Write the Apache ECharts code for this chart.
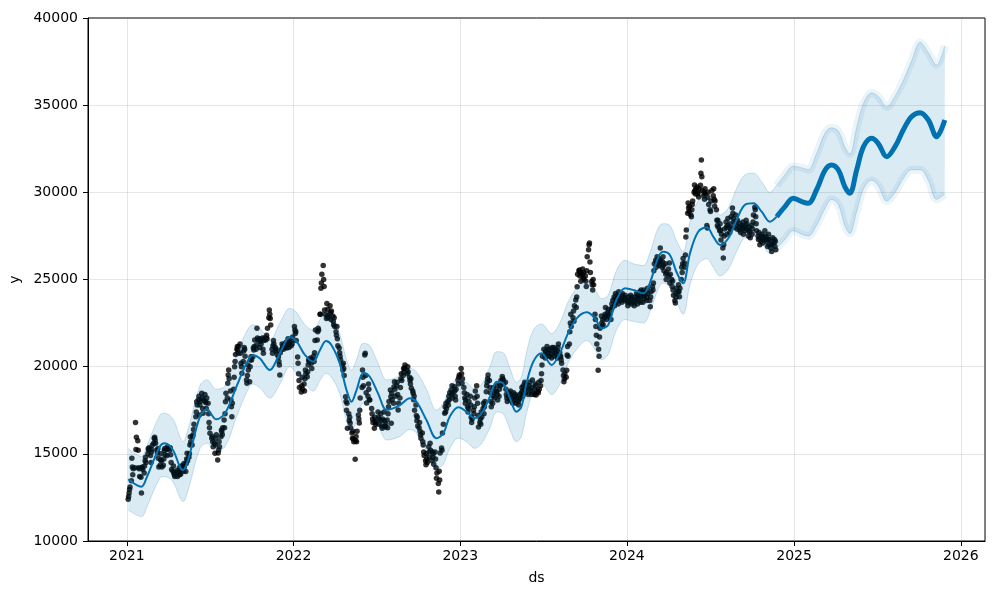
<!DOCTYPE html>
<html><head><meta charset="utf-8">
<script src="https://cdn.jsdelivr.net/npm/echarts@6/dist/echarts.min.js"></script>
<style>html,body{margin:0;padding:0;background:#fff}#c{width:1000px;height:600px}</style>
</head><body><div id="c"></div>
<script>
// ---- forecast (yhat) and its uncertainty band ----
const fcDates = ['2021-01-04','2021-02-02','2021-02-13','2021-03-14','2021-03-25','2021-04-12','2021-04-27','2021-05-04','2021-05-15','2021-06-10','2021-06-25','2021-07-16','2021-08-04','2021-08-29','2021-09-20','2021-10-04','2021-10-19','2021-11-10','2021-12-02','2021-12-24',
'2022-01-08','2022-01-26','2022-02-13','2022-02-28','2022-03-13','2022-03-25','2022-04-12','2022-04-27','2022-05-08','2022-05-19','2022-06-03','2022-06-17','2022-07-05','2022-07-24','2022-08-07','2022-08-22','2022-09-13','2022-09-27','2022-10-19','2022-11-10','2022-11-25','2022-12-09','2022-12-28',
'2023-01-15','2023-02-02','2023-02-17','2023-03-07','2023-03-22','2023-04-05','2023-04-20','2023-05-04','2023-05-15','2023-05-26','2023-06-10','2023-06-28','2023-07-20','2023-08-07','2023-08-25','2023-09-13','2023-10-05','2023-10-23','2023-11-07','2023-11-21','2023-12-09','2023-12-28',
'2024-01-15','2024-02-06','2024-02-20','2024-03-10','2024-03-21','2024-04-04','2024-04-19','2024-05-03','2024-05-18','2024-06-05','2024-06-24','2024-07-08','2024-07-23','2024-08-10','2024-08-28','2024-09-15','2024-10-04','2024-10-22','2024-11-09','2024-11-24','2024-12-12','2024-12-30',
'2025-01-18','2025-02-01','2025-02-19','2025-03-10','2025-03-24','2025-04-08','2025-04-22','2025-05-03','2025-05-18','2025-06-02','2025-06-20','2025-07-04','2025-07-23','2025-08-10','2025-08-28','2025-09-15','2025-10-04','2025-10-22','2025-11-09','2025-11-27'];
const yhat = [13540,13115,13614,15410,15603,15220,14262,14073,14646,17130,17554,16980,17325,18851,20193,20650,20480,19809,20766,21684,
21432,20670,20286,20956,21472,21243,20193,18661,17990,18661,19654,19424,18470,17514,17611,17800,18185,17990,16941,15891,16178,17130,17669,
17417,17037,17325,18277,19138,19046,18185,17417,17704,19046,20286,20766,20096,20766,21913,22774,23118,22774,22200,22390,23824,24495,
24398,24207,24781,26308,26594,26405,25400,24781,26500,27742,27994,27455,26979,27362,28412,29272,29370,28890,28316,28604,29177,29657,
29466,29370,30134,31281,31568,31281,30325,29944,31281,32619,33100,32813,32045,32619,33575,34338,34568,34149,33192,34149];
const yhatUpper = [15300,14850,15400,17200,17330,17000,16000,15700,16400,18900,19250,18700,18900,20600,22000,22400,22200,21530,22500,23350,
23100,22400,22100,22700,23200,23000,21900,20400,19810,20400,21340,21200,20200,19235,19300,19500,19900,19700,18700,17514,17900,18800,19300,
19100,18700,19000,20000,20860,20800,19900,19100,19400,20800,22100,22450,21900,22500,23700,24500,24900,24400,23900,24100,25500,26100,
25900,25800,26500,28000,28200,28100,27200,26600,28300,29500,29800,29300,28700,29100,30200,31000,31100,30600,30000,30400,31000,31500,
31400,31300,32200,33400,33700,33500,32600,32200,33700,35100,35700,35500,34900,35500,36400,37500,38600,38000,37300,38400];
const yhatLower = [11780,11400,11900,13600,13700,13400,12500,12260,12900,15300,15600,15220,15410,17100,18500,19000,18800,18200,19000,20000,
19600,19000,18600,19200,19620,19400,18470,16900,16300,16900,17900,17700,16750,15793,15850,16000,16400,16200,15200,14170,14400,15300,15900,
15700,15317,15600,16500,17400,17300,16400,15700,16000,17300,18600,19050,18400,19000,20200,21000,21500,21000,20400,20700,22100,22700,
22600,22500,23100,24500,24800,24600,23700,23000,24700,25900,26200,25700,25200,25600,26600,27400,27500,27100,26500,26800,27300,27800,
27600,27500,28100,29100,29600,29300,28100,27650,28900,30200,30700,30400,29500,30000,30800,31300,31300,30700,29600,29900];
const lastHistoryDate = '2024-11-24';

// ---- observed points (ds, y) ----
const observed = [
["2021-01-04",12400],["2021-01-05",12550],["2021-01-06",12750],["2021-01-07",12950],["2021-01-08",13100],["2021-01-11",13450],["2021-01-12",14750],["2021-01-13",14250],["2021-01-14",13800],["2021-01-15",14150],["2021-01-19",14200],["2021-01-20",16800],["2021-01-21",15250],["2021-01-22",15950],["2021-01-25",15750],["2021-01-26",15200],["2021-01-27",14200],["2021-01-28",14150],["2021-01-29",13700],
["2021-02-01",13650],["2021-02-02",12750],["2021-02-03",14200],["2021-02-04",14250],["2021-02-05",14100],["2021-02-08",13900],["2021-02-09",14300],["2021-02-10",14600],["2021-02-11",14800],["2021-02-12",14500],["2021-02-16",15000],["2021-02-17",15300],["2021-02-18",15200],["2021-02-19",15350],["2021-02-22",14900],["2021-02-23",14500],["2021-02-24",15100],["2021-02-25",15250],["2021-02-26",15500],
["2021-03-01",15600],["2021-03-02",15900],["2021-03-03",15950],["2021-03-04",15800],["2021-03-05",15600],["2021-03-08",15200],["2021-03-09",15050],["2021-03-10",15300],["2021-03-11",14750],["2021-03-12",14250],["2021-03-15",14350],["2021-03-16",14650],["2021-03-17",15000],["2021-03-18",14600],["2021-03-19",14250],["2021-03-22",14350],["2021-03-23",14700],["2021-03-24",15200],["2021-03-25",15300],["2021-03-26",14950],["2021-03-29",15250],["2021-03-30",14900],["2021-03-31",15400],
["2021-04-01",15300],["2021-04-05",15220],["2021-04-06",15350],["2021-04-07",14950],["2021-04-08",14500],["2021-04-09",14100],["2021-04-12",14000],["2021-04-13",14300],["2021-04-14",13900],["2021-04-15",13800],["2021-04-16",13700],["2021-04-19",13900],["2021-04-20",13800],["2021-04-21",14050],["2021-04-22",13700],["2021-04-23",13950],["2021-04-26",14200],["2021-04-27",13800],["2021-04-28",14000],["2021-04-29",13850],["2021-04-30",14300],
["2021-05-03",14100],["2021-05-04",14300],["2021-05-05",14000],["2021-05-06",14450],["2021-05-07",14260],["2021-05-10",13980],["2021-05-11",14450],["2021-05-12",14700],["2021-05-13",15030],["2021-05-14",14600],["2021-05-17",14800],["2021-05-18",15000],["2021-05-19",15500],["2021-05-20",15980],["2021-05-21",15700],["2021-05-24",15500],["2021-05-25",15980],["2021-05-26",16100],["2021-05-27",16400],["2021-05-28",16700],
["2021-06-01",17130],["2021-06-02",17400],["2021-06-03",17990],["2021-06-04",17800],["2021-06-07",18100],["2021-06-08",18300],["2021-06-09",17230],["2021-06-10",17800],["2021-06-11",18000],["2021-06-14",18470],["2021-06-15",18200],["2021-06-16",17600],["2021-06-17",17325],["2021-06-18",18090],["2021-06-21",18400],["2021-06-22",18000],["2021-06-23",17930],["2021-06-24",17600],["2021-06-25",18200],["2021-06-28",17900],["2021-06-29",17300],["2021-06-30",16800],
["2021-07-01",16500],["2021-07-02",16180],["2021-07-06",15890],["2021-07-07",16000],["2021-07-08",15700],["2021-07-09",15410],["2021-07-12",15600],["2021-07-13",15030],["2021-07-14",15500],["2021-07-15",15900],["2021-07-16",16100],["2021-07-19",14650],["2021-07-20",15050],["2021-07-21",15220],["2021-07-22",15700],["2021-07-23",15400],["2021-07-26",15980],["2021-07-27",16370],["2021-07-28",16270],["2021-07-29",16100],["2021-07-30",16500],
["2021-08-02",16940],["2021-08-03",16500],["2021-08-04",17300],["2021-08-05",17990],["2021-08-06",18470],["2021-08-09",18200],["2021-08-10",19050],["2021-08-11",19520],["2021-08-12",19810],["2021-08-13",19300],["2021-08-16",18600],["2021-08-17",18090],["2021-08-18",17700],["2021-08-19",17130],["2021-08-20",17900],["2021-08-23",18700],["2021-08-24",19400],["2021-08-25",20000],["2021-08-26",20300],["2021-08-27",20700],["2021-08-30",21000],["2021-08-31",21150],
["2021-09-01",20960],["2021-09-02",20770],["2021-09-03",21150],["2021-09-06",21300],["2021-09-07",20770],["2021-09-08",20190],["2021-09-09",20000],["2021-09-10",19620],["2021-09-13",20300],["2021-09-14",20900],["2021-09-15",21100],["2021-09-16",21000],["2021-09-17",20600],["2021-09-20",19240],["2021-09-21",19050],["2021-09-22",19500],["2021-09-23",20100],["2021-09-24",19810],["2021-09-27",19140],["2021-09-28",20000],["2021-09-29",20380],["2021-09-30",20570],
["2021-10-01",20380],["2021-10-04",20570],["2021-10-05",21070],["2021-10-06",20960],["2021-10-07",21150],["2021-10-08",21530],["2021-10-11",21000],["2021-10-12",21250],["2021-10-13",22200],["2021-10-14",21640],["2021-10-15",21530],["2021-10-18",21600],["2021-10-19",21100],["2021-10-20",21450],["2021-10-21",21550],["2021-10-22",21300],["2021-10-25",21640],["2021-10-26",21000],["2021-10-27",20770],["2021-10-28",21500],["2021-10-29",21640],
["2021-11-01",21530],["2021-11-02",21640],["2021-11-03",21800],["2021-11-04",21600],["2021-11-05",22200],["2021-11-08",22800],["2021-11-09",23250],["2021-11-10",23000],["2021-11-11",22770],["2021-11-12",22390],["2021-11-15",21000],["2021-11-16",20770],["2021-11-17",21200],["2021-11-18",21500],["2021-11-19",21300],["2021-11-22",21100],["2021-11-23",20900],["2021-11-24",21000],["2021-11-26",20700],["2021-11-29",20550],["2021-11-30",20300],
["2021-12-01",20100],["2021-12-02",19520],["2021-12-03",20800],["2021-12-06",21000],["2021-12-07",21300],["2021-12-08",21070],["2021-12-09",21200],["2021-12-10",21000],["2021-12-13",21300],["2021-12-14",21100],["2021-12-15",21250],["2021-12-16",21400],["2021-12-17",21070],["2021-12-20",21600],["2021-12-21",21300],["2021-12-22",21100],["2021-12-23",21400],["2021-12-27",21200],["2021-12-28",21500],["2021-12-29",21300],["2021-12-30",21700],
["2022-01-03",22300],["2022-01-04",22100],["2022-01-05",21900],["2022-01-06",22000],["2022-01-07",21500],["2022-01-10",20550],["2022-01-11",20200],["2022-01-12",19600],["2022-01-13",19200],["2022-01-14",18800],["2022-01-18",18550],["2022-01-19",18900],["2022-01-20",19400],["2022-01-21",18700],["2022-01-24",19000],["2022-01-25",18600],["2022-01-26",19300],["2022-01-27",19810],["2022-01-28",19600],["2022-01-31",19420],
["2022-02-01",19700],["2022-02-02",20100],["2022-02-03",20380],["2022-02-04",20300],["2022-02-07",20500],["2022-02-08",20380],["2022-02-09",20200],["2022-02-10",19900],["2022-02-11",20400],["2022-02-14",20600],["2022-02-15",20300],["2022-02-16",20800],["2022-02-17",21500],["2022-02-18",22100],["2022-02-22",21530],["2022-02-23",22000],["2022-02-24",22200],["2022-02-25",22100],["2022-02-28",23000],
["2022-03-01",23000],["2022-03-02",24500],["2022-03-03",24800],["2022-03-04",25300],["2022-03-07",25800],["2022-03-08",25000],["2022-03-09",24600],["2022-03-10",23250],["2022-03-11",23000],["2022-03-14",22770],["2022-03-15",23630],["2022-03-16",22900],["2022-03-17",23300],["2022-03-18",22800],["2022-03-21",23000],["2022-03-22",23500],["2022-03-23",23100],["2022-03-24",22700],["2022-03-25",23200],["2022-03-28",22900],["2022-03-29",22600],["2022-03-30",22400],["2022-03-31",22800],
["2022-04-01",22300],["2022-04-04",22000],["2022-04-05",21800],["2022-04-06",22300],["2022-04-07",21600],["2022-04-08",21200],["2022-04-11",21070],["2022-04-12",20800],["2022-04-13",20600],["2022-04-14",20400],["2022-04-18",20100],["2022-04-19",19810],["2022-04-20",20200],["2022-04-21",19900],["2022-04-22",19500],["2022-04-25",18280],["2022-04-26",18000],["2022-04-27",17500],["2022-04-28",17900],["2022-04-29",16470],
["2022-05-02",17300],["2022-05-03",16900],["2022-05-04",17100],["2022-05-05",16770],["2022-05-06",16500],["2022-05-09",16200],["2022-05-10",15900],["2022-05-11",16300],["2022-05-12",15850],["2022-05-13",15700],["2022-05-16",14690],["2022-05-17",15750],["2022-05-18",16000],["2022-05-19",15700],["2022-05-20",16300],["2022-05-23",17230],["2022-05-24",17000],["2022-05-25",16770],["2022-05-26",17500],["2022-05-27",18200],["2022-05-31",18800],
["2022-06-01",19810],["2022-06-02",19400],["2022-06-03",18900],["2022-06-06",20670],["2022-06-07",20770],["2022-06-08",19500],["2022-06-09",18500],["2022-06-10",17920],["2022-06-13",18300],["2022-06-14",19000],["2022-06-15",18700],["2022-06-16",18100],["2022-06-17",18090],["2022-06-21",17600],["2022-06-22",17300],["2022-06-23",17000],["2022-06-24",16800],["2022-06-27",16470],["2022-06-28",17100],["2022-06-29",16900],["2022-06-30",16700],
["2022-07-01",16800],["2022-07-05",17400],["2022-07-06",17100],["2022-07-07",16700],["2022-07-08",17000],["2022-07-11",17300],["2022-07-12",16900],["2022-07-13",16600],["2022-07-14",16470],["2022-07-15",17000],["2022-07-18",17400],["2022-07-19",16900],["2022-07-20",16600],["2022-07-21",16540],["2022-07-22",16700],["2022-07-25",16940],["2022-07-26",16500],["2022-07-27",17300],["2022-07-28",17700],["2022-07-29",18000],
["2022-08-01",18660],["2022-08-02",18280],["2022-08-03",16750],["2022-08-04",18470],["2022-08-05",18100],["2022-08-08",17900],["2022-08-09",18850],["2022-08-10",19140],["2022-08-11",18700],["2022-08-12",18300],["2022-08-15",18900],["2022-08-16",19100],["2022-08-17",18400],["2022-08-18",17510],["2022-08-19",17900],["2022-08-22",18200],["2022-08-23",18800],["2022-08-24",19300],["2022-08-25",19600],["2022-08-26",19200],["2022-08-29",19500],["2022-08-30",19900],["2022-08-31",19700],
["2022-09-01",19920],["2022-09-02",20100],["2022-09-06",19800],["2022-09-07",19600],["2022-09-08",20000],["2022-09-09",19700],["2022-09-12",19400],["2022-09-13",19200],["2022-09-14",19000],["2022-09-15",19300],["2022-09-16",18760],["2022-09-19",18600],["2022-09-20",18470],["2022-09-21",18100],["2022-09-22",18300],["2022-09-23",17500],["2022-09-26",17800],["2022-09-27",17200],["2022-09-28",16900],["2022-09-29",17100],["2022-09-30",16600],
["2022-10-03",16500],["2022-10-04",16800],["2022-10-05",16300],["2022-10-06",16080],["2022-10-07",15900],["2022-10-10",16200],["2022-10-11",15700],["2022-10-12",15500],["2022-10-13",15100],["2022-10-14",14900],["2022-10-17",14600],["2022-10-18",14370],["2022-10-19",15000],["2022-10-20",14700],["2022-10-21",14500],["2022-10-24",15400],["2022-10-25",15100],["2022-10-26",14800],["2022-10-27",15600],["2022-10-28",15200],["2022-10-31",14600],
["2022-11-01",15100],["2022-11-02",14800],["2022-11-03",15000],["2022-11-04",14400],["2022-11-07",15100],["2022-11-08",14700],["2022-11-09",14200],["2022-11-10",13600],["2022-11-11",13900],["2022-11-14",13300],["2022-11-15",12810],["2022-11-16",14000],["2022-11-17",13500],["2022-11-18",15050],["2022-11-21",15330],["2022-11-22",15200],["2022-11-23",16200],["2022-11-25",16700],["2022-11-28",17325],["2022-11-29",17700],["2022-11-30",17400],
["2022-12-01",17900],["2022-12-02",17600],["2022-12-05",18000],["2022-12-06",17800],["2022-12-07",18300],["2022-12-08",18100],["2022-12-09",18500],["2022-12-12",18660],["2022-12-13",18400],["2022-12-14",18900],["2022-12-15",18200],["2022-12-16",18500],["2022-12-19",18850],["2022-12-20",18600],["2022-12-21",18300],["2022-12-22",18090],["2022-12-23",18700],["2022-12-27",19240],["2022-12-28",19000],["2022-12-29",19400],["2022-12-30",19520],
["2023-01-03",19900],["2023-01-04",19600],["2023-01-05",19050],["2023-01-06",19300],["2023-01-09",18800],["2023-01-10",18500],["2023-01-11",18200],["2023-01-12",17900],["2023-01-13",18100],["2023-01-16",18400],["2023-01-17",17700],["2023-01-18",17400],["2023-01-19",17600],["2023-01-20",18000],["2023-01-23",18300],["2023-01-24",17800],["2023-01-25",17100],["2023-01-26",16800],["2023-01-27",17000],["2023-01-30",17500],["2023-01-31",17300],
["2023-02-01",17700],["2023-02-02",18200],["2023-02-03",18600],["2023-02-06",18900],["2023-02-07",18300],["2023-02-08",17900],["2023-02-09",17200],["2023-02-10",16540],["2023-02-13",16800],["2023-02-14",17000],["2023-02-15",16700],["2023-02-16",17400],["2023-02-17",17100],["2023-02-20",17600],["2023-02-21",17900],["2023-02-22",17300],["2023-02-23",17700],["2023-02-24",18000],["2023-02-27",18560],["2023-02-28",18900],
["2023-03-01",19100],["2023-03-02",19300],["2023-03-03",19520],["2023-03-06",19200],["2023-03-07",18800],["2023-03-08",18500],["2023-03-09",18000],["2023-03-10",17700],["2023-03-13",17900],["2023-03-14",18300],["2023-03-15",18800],["2023-03-16",18500],["2023-03-17",18200],["2023-03-20",18600],["2023-03-21",18900],["2023-03-22",18560],["2023-03-23",18400],["2023-03-24",18090],["2023-03-27",18300],["2023-03-28",18700],["2023-03-29",19000],["2023-03-30",18900],["2023-03-31",19200],
["2023-04-03",19430],["2023-04-04",19300],["2023-04-05",19240],["2023-04-06",19000],["2023-04-10",19100],["2023-04-11",18700],["2023-04-12",18400],["2023-04-13",18200],["2023-04-14",18000],["2023-04-17",18300],["2023-04-18",18500],["2023-04-19",18100],["2023-04-20",18400],["2023-04-21",18600],["2023-04-24",18200],["2023-04-25",18000],["2023-04-26",17900],["2023-04-27",18300],["2023-04-28",18500],
["2023-05-01",18400],["2023-05-02",18200],["2023-05-03",17900],["2023-05-04",18100],["2023-05-05",18300],["2023-05-08",18000],["2023-05-09",17800],["2023-05-10",18100],["2023-05-11",18400],["2023-05-12",18200],["2023-05-15",18500],["2023-05-16",18800],["2023-05-17",18600],["2023-05-18",18300],["2023-05-19",18900],["2023-05-22",19100],["2023-05-23",18700],["2023-05-24",18500],["2023-05-25",19000],["2023-05-26",18800],["2023-05-30",18400],["2023-05-31",18700],
["2023-06-01",18900],["2023-06-02",19100],["2023-06-05",18600],["2023-06-06",18400],["2023-06-07",18800],["2023-06-08",19240],["2023-06-09",18500],["2023-06-12",18400],["2023-06-13",18700],["2023-06-14",19000],["2023-06-15",18900],["2023-06-16",18380],["2023-06-20",18600],["2023-06-21",18500],["2023-06-22",19100],["2023-06-23",18700],["2023-06-26",18900],["2023-06-27",19200],["2023-06-28",19600],["2023-06-29",20100],["2023-06-30",20600],
["2023-07-03",21000],["2023-07-05",20700],["2023-07-06",20500],["2023-07-07",20900],["2023-07-10",21150],["2023-07-11",20800],["2023-07-12",20600],["2023-07-13",21000],["2023-07-14",20800],["2023-07-17",20600],["2023-07-18",21000],["2023-07-19",20700],["2023-07-20",20500],["2023-07-21",21100],["2023-07-24",20900],["2023-07-25",21100],["2023-07-26",20600],["2023-07-27",20800],["2023-07-28",21000],["2023-07-31",20700],
["2023-08-01",20900],["2023-08-02",20500],["2023-08-03",21100],["2023-08-04",21300],["2023-08-07",20800],["2023-08-08",20600],["2023-08-09",20570],["2023-08-10",20380],["2023-08-11",20200],["2023-08-14",19810],["2023-08-15",19500],["2023-08-16",19140],["2023-08-17",19300],["2023-08-18",19600],["2023-08-21",19400],["2023-08-22",19800],["2023-08-23",20670],["2023-08-24",21150],["2023-08-25",20600],["2023-08-28",21300],["2023-08-29",22000],["2023-08-30",22500],["2023-08-31",23000],
["2023-09-01",22300],["2023-09-05",22800],["2023-09-06",23200],["2023-09-07",22600],["2023-09-08",23500],["2023-09-11",23820],["2023-09-12",23400],["2023-09-13",24000],["2023-09-14",24590],["2023-09-15",25300],["2023-09-18",25500],["2023-09-19",25550],["2023-09-20",25200],["2023-09-21",25400],["2023-09-22",24900],["2023-09-25",25300],["2023-09-26",25600],["2023-09-27",25100],["2023-09-28",25400],["2023-09-29",25000],
["2023-10-02",25200],["2023-10-03",24900],["2023-10-04",24600],["2023-10-05",25500],["2023-10-06",26300],["2023-10-09",26700],["2023-10-10",27000],["2023-10-11",27100],["2023-10-12",26000],["2023-10-13",25400],["2023-10-16",24880],["2023-10-17",24700],["2023-10-18",24400],["2023-10-19",25000],["2023-10-20",24700],["2023-10-23",23000],["2023-10-24",22700],["2023-10-25",22300],["2023-10-26",21800],["2023-10-27",21300],["2023-10-30",19800],["2023-10-31",21000],
["2023-11-01",20600],["2023-11-02",21700],["2023-11-03",22200],["2023-11-06",22900],["2023-11-07",22500],["2023-11-08",22300],["2023-11-09",22700],["2023-11-10",22400],["2023-11-13",22800],["2023-11-14",23000],["2023-11-15",23400],["2023-11-16",22900],["2023-11-17",22700],["2023-11-20",23100],["2023-11-21",23300],["2023-11-22",22900],["2023-11-24",23000],["2023-11-27",22700],["2023-11-28",23300],["2023-11-29",23600],["2023-11-30",23400],
["2023-12-01",23800],["2023-12-04",24000],["2023-12-05",23500],["2023-12-06",23900],["2023-12-07",24200],["2023-12-08",23700],["2023-12-11",24100],["2023-12-12",23900],["2023-12-13",23600],["2023-12-14",24300],["2023-12-15",24000],["2023-12-18",23800],["2023-12-19",24100],["2023-12-20",23900],["2023-12-21",23700],["2023-12-22",24200],["2023-12-26",24000],["2023-12-27",23800],["2023-12-28",24100],["2023-12-29",23900],
["2024-01-02",23700],["2024-01-03",23500],["2024-01-04",23800],["2024-01-05",24000],["2024-01-08",23700],["2024-01-09",24100],["2024-01-10",23900],["2024-01-11",23600],["2024-01-12",24000],["2024-01-16",23800],["2024-01-17",23500],["2024-01-18",23700],["2024-01-19",24000],["2024-01-22",24200],["2024-01-23",23900],["2024-01-24",23600],["2024-01-25",24100],["2024-01-26",23800],["2024-01-29",24300],["2024-01-30",24000],["2024-01-31",23700],
["2024-02-01",24400],["2024-02-02",24000],["2024-02-05",23700],["2024-02-06",24200],["2024-02-07",24400],["2024-02-08",23900],["2024-02-09",24100],["2024-02-12",24300],["2024-02-13",23800],["2024-02-14",24000],["2024-02-15",24500],["2024-02-16",24200],["2024-02-20",23800],["2024-02-21",23440],["2024-02-22",24000],["2024-02-23",24300],["2024-02-26",24600],["2024-02-27",24400],["2024-02-28",24800],["2024-02-29",25500],
["2024-03-01",25900],["2024-03-04",26100],["2024-03-05",25700],["2024-03-06",26000],["2024-03-07",26300],["2024-03-08",25900],["2024-03-11",26200],["2024-03-12",25800],["2024-03-13",26000],["2024-03-14",26800],["2024-03-15",26100],["2024-03-18",25700],["2024-03-19",26000],["2024-03-20",26300],["2024-03-21",25800],["2024-03-22",25500],["2024-03-25",25900],["2024-03-26",25300],["2024-03-27",25000],["2024-03-28",25400],
["2024-04-01",25600],["2024-04-02",25200],["2024-04-03",25950],["2024-04-04",24800],["2024-04-05",25300],["2024-04-08",25000],["2024-04-09",24600],["2024-04-10",24900],["2024-04-11",24400],["2024-04-12",24100],["2024-04-15",23800],["2024-04-16",23650],["2024-04-17",24200],["2024-04-18",24000],["2024-04-19",24500],["2024-04-22",24300],["2024-04-23",24700],["2024-04-24",24300],["2024-04-25",24010],["2024-04-26",24500],["2024-04-29",25000],["2024-04-30",25700],
["2024-05-01",25400],["2024-05-02",25900],["2024-05-03",26200],["2024-05-06",25950],["2024-05-07",25700],["2024-05-08",26400],["2024-05-09",27440],["2024-05-10",27840],["2024-05-13",28800],["2024-05-14",29390],["2024-05-15",29100],["2024-05-16",28900],["2024-05-17",29200],["2024-05-20",28700],["2024-05-21",28600],["2024-05-22",29000],["2024-05-23",29300],["2024-05-24",29500],["2024-05-27",30000],["2024-05-28",30420],["2024-05-29",30100],["2024-05-30",29900],["2024-05-31",30200],
["2024-06-03",30300],["2024-06-04",29900],["2024-06-05",30000],["2024-06-06",29730],["2024-06-07",30200],["2024-06-10",30400],["2024-06-11",31100],["2024-06-12",31850],["2024-06-13",30900],["2024-06-14",30100],["2024-06-17",29800],["2024-06-18",30000],["2024-06-19",29600],["2024-06-20",30200],["2024-06-21",29900],["2024-06-24",28100],["2024-06-25",27950],["2024-06-26",29700],["2024-06-27",30000],["2024-06-28",29300],
["2024-07-01",29000],["2024-07-02",28900],["2024-07-03",29500],["2024-07-05",30100],["2024-07-08",29800],["2024-07-09",30200],["2024-07-10",29600],["2024-07-11",29200],["2024-07-12",29500],["2024-07-15",29000],["2024-07-16",28400],["2024-07-17",28100],["2024-07-18",28400],["2024-07-19",28000],["2024-07-22",27800],["2024-07-23",28200],["2024-07-24",27840],["2024-07-25",27270],["2024-07-26",27600],["2024-07-29",26800],["2024-07-30",26230],["2024-07-31",27000],
["2024-08-01",27500],["2024-08-02",27900],["2024-08-05",28300],["2024-08-06",28000],["2024-08-07",27600],["2024-08-08",28100],["2024-08-09",28500],["2024-08-12",28000],["2024-08-13",27700],["2024-08-14",28200],["2024-08-15",27900],["2024-08-16",28600],["2024-08-19",29100],["2024-08-20",28800],["2024-08-21",28500],["2024-08-22",28300],["2024-08-23",28000],["2024-08-26",28700],["2024-08-27",28300],["2024-08-28",28100],["2024-08-29",27900],["2024-08-30",28400],
["2024-09-03",27840],["2024-09-04",28200],["2024-09-05",28000],["2024-09-06",27700],["2024-09-09",28100],["2024-09-10",27900],["2024-09-11",28300],["2024-09-12",27600],["2024-09-13",28000],["2024-09-16",27800],["2024-09-17",28100],["2024-09-18",28400],["2024-09-19",27900],["2024-09-20",28200],["2024-09-23",27500],["2024-09-24",27800],["2024-09-25",28000],["2024-09-26",27700],["2024-09-27",27400],["2024-09-30",28100],
["2024-10-01",27600],["2024-10-02",27900],["2024-10-03",28300],["2024-10-04",28700],["2024-10-07",29150],["2024-10-08",29000],["2024-10-09",28600],["2024-10-10",28200],["2024-10-11",27800],["2024-10-14",27500],["2024-10-15",27300],["2024-10-16",27700],["2024-10-17",27400],["2024-10-18",27000],["2024-10-21",27200],["2024-10-22",27600],["2024-10-23",27300],["2024-10-24",27500],["2024-10-25",27100],["2024-10-28",27400],["2024-10-29",27800],["2024-10-30",27300],["2024-10-31",27500],
["2024-11-01",27200],["2024-11-04",26900],["2024-11-05",27300],["2024-11-06",27600],["2024-11-07",27000],["2024-11-08",27300],["2024-11-11",26800],["2024-11-12",27100],["2024-11-13",26600],["2024-11-14",27000],["2024-11-15",27400],["2024-11-18",27100],["2024-11-19",27300],["2024-11-20",26900],["2024-11-21",27200],["2024-11-22",26700]
];

// ---- axis ranges / ticks ----
const xMinDate = '2020-10-08';
const xMaxDate = '2026-02-23';
const yMin = 10000, yMax = 40000, yStep = 5000;

const T = s => new Date(s + 'T00:00:00').getTime();
const pairs = (vals, from, to) => fcDates.slice(from, to).map((d, i) => [T(d), vals[from + i]]);
const n = fcDates.length;
const split = fcDates.indexOf(lastHistoryDate);
const bandDiff = yhatUpper.map((u, i) => u - yhatLower[i]);

const BLUE = '#0072B2';
const FONT = 'DejaVu Sans';
const axisText = { color: '#000', fontSize: 14, fontFamily: FONT };
const gridLine = { show: true, lineStyle: { color: 'rgba(128,128,128,0.2)', width: 1 } };

const chart = echarts.init(document.getElementById('c'), null, { renderer: 'canvas' });
chart.setOption({
  animation: false,
  backgroundColor: '#fff',
  grid: { left: 88, right: 15, top: 18, bottom: 59, containLabel: false, outerBoundsMode: 'none',
          show: true, borderColor: '#000', borderWidth: 1, backgroundColor: 'transparent' },
  xAxis: {
    type: 'time', min: T(xMinDate), max: T(xMaxDate),
    minInterval: 365 * 864e5, maxInterval: 366 * 864e5,
    name: 'ds', nameLocation: 'middle', nameGap: 30,
    nameTextStyle: axisText,
    axisLine: { show: true, lineStyle: { color: '#000', width: 1 } },
    axisTick: { show: true, length: 5, lineStyle: { color: '#000' } },
    axisLabel: { ...axisText, margin: 8, formatter: v => String(new Date(v).getFullYear()) },
    splitLine: gridLine, minorTick: { show: false }
  },
  yAxis: {
    type: 'value', min: yMin, max: yMax, interval: yStep,
    name: 'y', nameLocation: 'middle', nameGap: 62, nameRotate: 90,
    nameTextStyle: axisText,
    axisLine: { show: true, lineStyle: { color: '#000', width: 1 } },
    axisTick: { show: true, length: 5, lineStyle: { color: '#000' } },
    axisLabel: { ...axisText, margin: 10, formatter: v => String(v) },
    splitLine: gridLine
  },
  series: [
    { name: 'observed', type: 'scatter', data: observed.map(p => [T(p[0]), p[1]]), symbol: 'circle', symbolSize: 5.5,
      itemStyle: { color: '#000' }, silent: true, z: 2 },
    { name: 'yhat', type: 'line', data: pairs(yhat, 0, split + 1), smooth: 0.35, showSymbol: false,
      lineStyle: { color: BLUE, width: 2 }, silent: true, z: 3 },
    { name: 'yhat future', type: 'line', data: pairs(yhat, split, n), smooth: 0.35, showSymbol: false,
      lineStyle: { color: BLUE, width: 5 }, silent: true, z: 3 },
    { name: 'lower base', type: 'line', stack: 'band', data: pairs(yhatLower, 0, n), smooth: 0.35, showSymbol: false,
      lineStyle: { opacity: 0 }, silent: true, z: 4 },
    { name: 'band', type: 'line', stack: 'band', data: pairs(bandDiff, 0, n), smooth: 0.35, showSymbol: false,
      lineStyle: { opacity: 0 }, areaStyle: { color: 'rgba(0,114,178,0.2)' }, silent: true, z: 4 },
    { name: 'upper edge', type: 'line', data: pairs(yhatUpper, 0, n), smooth: 0.35, showSymbol: false,
      lineStyle: { color: 'rgba(0,114,178,0.2)', width: 1 }, silent: true, z: 4 },
    { name: 'lower edge', type: 'line', data: pairs(yhatLower, 0, n), smooth: 0.35, showSymbol: false,
      lineStyle: { color: 'rgba(0,114,178,0.2)', width: 1 }, silent: true, z: 4 },
    { name: 'upper fringe', type: 'line', data: pairs(yhatUpper, split, n), smooth: 0.35, showSymbol: false,
      lineStyle: { color: 'rgba(0,114,178,0.08)', width: 8 }, silent: true, z: 4 },
    { name: 'lower fringe', type: 'line', data: pairs(yhatLower, split, n), smooth: 0.35, showSymbol: false,
      lineStyle: { color: 'rgba(0,114,178,0.08)', width: 8 }, silent: true, z: 4 }
  ]
});
</script>
</body></html>
